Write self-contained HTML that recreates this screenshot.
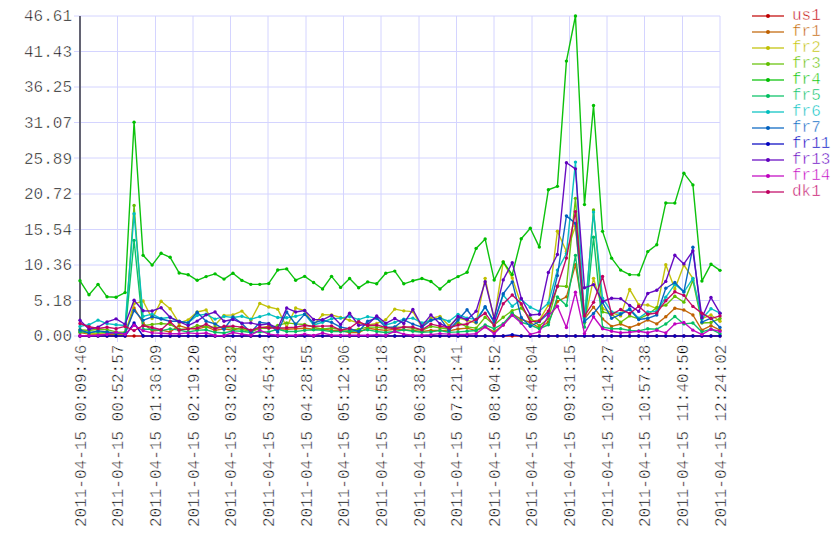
<!DOCTYPE html><html><head><meta charset="utf-8"><style>html,body{margin:0;padding:0;background:#fff;width:840px;height:560px;overflow:hidden}svg{display:block}text{font-family:"Liberation Mono", monospace;font-size:16px}</style></head><body>
<svg width="840" height="560" viewBox="0 0 840 560">
<g stroke="#d4d4ff" stroke-width="1"><line x1="74" y1="336.00" x2="720" y2="336.00"/><line x1="74" y1="300.50" x2="720" y2="300.50"/><line x1="74" y1="265.00" x2="720" y2="265.00"/><line x1="74" y1="229.50" x2="720" y2="229.50"/><line x1="74" y1="194.00" x2="720" y2="194.00"/><line x1="74" y1="158.00" x2="720" y2="158.00"/><line x1="74" y1="122.50" x2="720" y2="122.50"/><line x1="74" y1="87.00" x2="720" y2="87.00"/><line x1="74" y1="51.50" x2="720" y2="51.50"/><line x1="74" y1="16.00" x2="720" y2="16.00"/><line x1="80.00" y1="16" x2="80.00" y2="342"/><line x1="117.50" y1="16" x2="117.50" y2="342"/><line x1="155.50" y1="16" x2="155.50" y2="342"/><line x1="193.00" y1="16" x2="193.00" y2="342"/><line x1="230.50" y1="16" x2="230.50" y2="342"/><line x1="268.00" y1="16" x2="268.00" y2="342"/><line x1="306.00" y1="16" x2="306.00" y2="342"/><line x1="343.50" y1="16" x2="343.50" y2="342"/><line x1="381.00" y1="16" x2="381.00" y2="342"/><line x1="419.00" y1="16" x2="419.00" y2="342"/><line x1="456.50" y1="16" x2="456.50" y2="342"/><line x1="494.00" y1="16" x2="494.00" y2="342"/><line x1="532.00" y1="16" x2="532.00" y2="342"/><line x1="569.50" y1="16" x2="569.50" y2="342"/><line x1="607.00" y1="16" x2="607.00" y2="342"/><line x1="644.50" y1="16" x2="644.50" y2="342"/><line x1="682.50" y1="16" x2="682.50" y2="342"/><line x1="720.00" y1="16" x2="720.00" y2="342"/></g>
<line x1="80" y1="16" x2="80" y2="336" stroke="#636373" stroke-width="2"/>
<g fill="#000000" stroke="#fff" stroke-width="0.48"><text x="72" y="337.30" text-anchor="end" dominant-baseline="central">0.00</text><text x="72" y="301.74" text-anchor="end" dominant-baseline="central">5.18</text><text x="72" y="266.19" text-anchor="end" dominant-baseline="central">10.36</text><text x="72" y="230.63" text-anchor="end" dominant-baseline="central">15.54</text><text x="72" y="195.08" text-anchor="end" dominant-baseline="central">20.72</text><text x="72" y="159.52" text-anchor="end" dominant-baseline="central">25.89</text><text x="72" y="123.97" text-anchor="end" dominant-baseline="central">31.07</text><text x="72" y="88.41" text-anchor="end" dominant-baseline="central">36.25</text><text x="72" y="52.86" text-anchor="end" dominant-baseline="central">41.43</text><text x="72" y="17.30" text-anchor="end" dominant-baseline="central">46.61</text><text transform="translate(81.70,344.6) rotate(-90)" text-anchor="end" dominant-baseline="central">2011-04-15 00:09:46</text><text transform="translate(119.35,344.6) rotate(-90)" text-anchor="end" dominant-baseline="central">2011-04-15 00:52:57</text><text transform="translate(156.99,344.6) rotate(-90)" text-anchor="end" dominant-baseline="central">2011-04-15 01:36:09</text><text transform="translate(194.64,344.6) rotate(-90)" text-anchor="end" dominant-baseline="central">2011-04-15 02:19:20</text><text transform="translate(232.29,344.6) rotate(-90)" text-anchor="end" dominant-baseline="central">2011-04-15 03:02:32</text><text transform="translate(269.94,344.6) rotate(-90)" text-anchor="end" dominant-baseline="central">2011-04-15 03:45:43</text><text transform="translate(307.58,344.6) rotate(-90)" text-anchor="end" dominant-baseline="central">2011-04-15 04:28:55</text><text transform="translate(345.23,344.6) rotate(-90)" text-anchor="end" dominant-baseline="central">2011-04-15 05:12:06</text><text transform="translate(382.88,344.6) rotate(-90)" text-anchor="end" dominant-baseline="central">2011-04-15 05:55:18</text><text transform="translate(420.52,344.6) rotate(-90)" text-anchor="end" dominant-baseline="central">2011-04-15 06:38:29</text><text transform="translate(458.17,344.6) rotate(-90)" text-anchor="end" dominant-baseline="central">2011-04-15 07:21:41</text><text transform="translate(495.82,344.6) rotate(-90)" text-anchor="end" dominant-baseline="central">2011-04-15 08:04:52</text><text transform="translate(533.46,344.6) rotate(-90)" text-anchor="end" dominant-baseline="central">2011-04-15 08:48:04</text><text transform="translate(571.11,344.6) rotate(-90)" text-anchor="end" dominant-baseline="central">2011-04-15 09:31:15</text><text transform="translate(608.76,344.6) rotate(-90)" text-anchor="end" dominant-baseline="central">2011-04-15 10:14:27</text><text transform="translate(646.41,344.6) rotate(-90)" text-anchor="end" dominant-baseline="central">2011-04-15 10:57:38</text><text transform="translate(684.05,344.6) rotate(-90)" text-anchor="end" dominant-baseline="central">2011-04-15 11:40:50</text><text transform="translate(721.70,344.6) rotate(-90)" text-anchor="end" dominant-baseline="central">2011-04-15 12:24:02</text></g>
<polyline points="80.00,336.00 89.01,336.00 98.03,336.00 107.04,336.00 116.06,336.00 125.07,336.00 134.08,336.00 143.10,336.00 152.11,336.00 161.13,336.00 170.14,336.00 179.15,336.00 188.17,336.00 197.18,336.00 206.13,336.00 215.07,336.00 224.01,336.00 232.95,336.00 241.90,336.00 250.84,336.00 259.78,336.00 268.75,336.00 277.72,336.00 286.69,336.00 295.66,336.00 304.63,336.00 313.60,336.00 322.57,336.00 331.54,336.00 340.58,336.00 349.61,336.00 358.64,336.00 367.68,336.00 376.71,336.00 385.74,336.00 394.77,336.00 403.81,336.00 412.85,336.00 421.89,336.00 430.92,336.00 439.96,336.00 449.00,336.00 458.04,336.00 467.08,336.00 476.12,336.00 485.15,336.00 494.18,336.00 503.21,336.00 512.24,336.00 521.27,336.00 530.30,336.00 539.33,336.00 548.37,336.00 557.40,336.00 566.43,336.00 575.46,336.00 584.49,336.00 593.52,336.00 602.56,336.00 611.60,336.00 620.63,336.00 629.67,336.00 638.70,336.00 647.74,336.00 656.77,336.00 665.80,336.00 674.84,336.00 683.87,336.00 692.90,336.00 701.93,336.00 710.97,336.00 720.00,336.00" fill="none" stroke="#bf0000" stroke-opacity="0.95" stroke-width="1.4" stroke-linejoin="round"/>
<g fill="#bf0000"><circle cx="80.00" cy="336.00" r="1.7"/><circle cx="89.01" cy="336.00" r="1.7"/><circle cx="98.03" cy="336.00" r="1.7"/><circle cx="107.04" cy="336.00" r="1.7"/><circle cx="116.06" cy="336.00" r="1.7"/><circle cx="125.07" cy="336.00" r="1.7"/><circle cx="134.08" cy="336.00" r="1.7"/><circle cx="143.10" cy="336.00" r="1.7"/><circle cx="152.11" cy="336.00" r="1.7"/><circle cx="161.13" cy="336.00" r="1.7"/><circle cx="170.14" cy="336.00" r="1.7"/><circle cx="179.15" cy="336.00" r="1.7"/><circle cx="188.17" cy="336.00" r="1.7"/><circle cx="197.18" cy="336.00" r="1.7"/><circle cx="206.13" cy="336.00" r="1.7"/><circle cx="215.07" cy="336.00" r="1.7"/><circle cx="224.01" cy="336.00" r="1.7"/><circle cx="232.95" cy="336.00" r="1.7"/><circle cx="241.90" cy="336.00" r="1.7"/><circle cx="250.84" cy="336.00" r="1.7"/><circle cx="259.78" cy="336.00" r="1.7"/><circle cx="268.75" cy="336.00" r="1.7"/><circle cx="277.72" cy="336.00" r="1.7"/><circle cx="286.69" cy="336.00" r="1.7"/><circle cx="295.66" cy="336.00" r="1.7"/><circle cx="304.63" cy="336.00" r="1.7"/><circle cx="313.60" cy="336.00" r="1.7"/><circle cx="322.57" cy="336.00" r="1.7"/><circle cx="331.54" cy="336.00" r="1.7"/><circle cx="340.58" cy="336.00" r="1.7"/><circle cx="349.61" cy="336.00" r="1.7"/><circle cx="358.64" cy="336.00" r="1.7"/><circle cx="367.68" cy="336.00" r="1.7"/><circle cx="376.71" cy="336.00" r="1.7"/><circle cx="385.74" cy="336.00" r="1.7"/><circle cx="394.77" cy="336.00" r="1.7"/><circle cx="403.81" cy="336.00" r="1.7"/><circle cx="412.85" cy="336.00" r="1.7"/><circle cx="421.89" cy="336.00" r="1.7"/><circle cx="430.92" cy="336.00" r="1.7"/><circle cx="439.96" cy="336.00" r="1.7"/><circle cx="449.00" cy="336.00" r="1.7"/><circle cx="458.04" cy="336.00" r="1.7"/><circle cx="467.08" cy="336.00" r="1.7"/><circle cx="476.12" cy="336.00" r="1.7"/><circle cx="485.15" cy="336.00" r="1.7"/><circle cx="494.18" cy="336.00" r="1.7"/><circle cx="503.21" cy="336.00" r="1.7"/><circle cx="512.24" cy="336.00" r="1.7"/><circle cx="521.27" cy="336.00" r="1.7"/><circle cx="530.30" cy="336.00" r="1.7"/><circle cx="539.33" cy="336.00" r="1.7"/><circle cx="548.37" cy="336.00" r="1.7"/><circle cx="557.40" cy="336.00" r="1.7"/><circle cx="566.43" cy="336.00" r="1.7"/><circle cx="575.46" cy="336.00" r="1.7"/><circle cx="584.49" cy="336.00" r="1.7"/><circle cx="593.52" cy="336.00" r="1.7"/><circle cx="602.56" cy="336.00" r="1.7"/><circle cx="611.60" cy="336.00" r="1.7"/><circle cx="620.63" cy="336.00" r="1.7"/><circle cx="629.67" cy="336.00" r="1.7"/><circle cx="638.70" cy="336.00" r="1.7"/><circle cx="647.74" cy="336.00" r="1.7"/><circle cx="656.77" cy="336.00" r="1.7"/><circle cx="665.80" cy="336.00" r="1.7"/><circle cx="674.84" cy="336.00" r="1.7"/><circle cx="683.87" cy="336.00" r="1.7"/><circle cx="692.90" cy="336.00" r="1.7"/><circle cx="701.93" cy="336.00" r="1.7"/><circle cx="710.97" cy="336.00" r="1.7"/><circle cx="720.00" cy="336.00" r="1.7"/></g>
<polyline points="80.00,332.57 89.01,333.94 98.03,334.28 107.04,333.94 116.06,334.28 125.07,334.28 134.08,307.92 143.10,323.02 152.11,331.06 161.13,330.16 170.14,331.95 179.15,325.70 188.17,328.38 197.18,329.20 206.13,326.59 215.07,330.37 224.01,328.79 232.95,330.37 241.90,327.14 250.84,331.47 259.78,328.24 268.75,326.11 277.72,328.79 286.69,329.27 295.66,328.79 304.63,328.24 313.60,329.27 322.57,328.79 331.54,330.37 340.58,330.37 349.61,332.50 358.64,332.50 367.68,328.24 376.71,329.48 385.74,330.37 394.77,329.27 403.81,329.82 412.85,330.37 421.89,331.47 430.92,330.37 439.96,330.37 449.00,330.85 458.04,329.00 467.08,328.10 476.12,330.64 485.15,326.87 494.18,331.88 503.21,325.02 512.24,313.76 521.27,319.39 530.30,322.48 539.33,327.76 548.37,322.27 557.40,301.47 566.43,296.87 575.46,264.60 584.49,318.84 593.52,307.10 602.56,318.84 611.60,326.39 620.63,323.99 629.67,327.62 638.70,324.26 647.74,319.93 656.77,323.92 665.80,316.78 674.84,308.19 683.87,309.98 692.90,314.99 701.93,330.16 710.97,325.70 720.00,330.16" fill="none" stroke="#bf6000" stroke-opacity="0.95" stroke-width="1.4" stroke-linejoin="round"/>
<g fill="#bf6000"><circle cx="80.00" cy="332.57" r="1.7"/><circle cx="89.01" cy="333.94" r="1.7"/><circle cx="98.03" cy="334.28" r="1.7"/><circle cx="107.04" cy="333.94" r="1.7"/><circle cx="116.06" cy="334.28" r="1.7"/><circle cx="125.07" cy="334.28" r="1.7"/><circle cx="134.08" cy="307.92" r="1.7"/><circle cx="143.10" cy="323.02" r="1.7"/><circle cx="152.11" cy="331.06" r="1.7"/><circle cx="161.13" cy="330.16" r="1.7"/><circle cx="170.14" cy="331.95" r="1.7"/><circle cx="179.15" cy="325.70" r="1.7"/><circle cx="188.17" cy="328.38" r="1.7"/><circle cx="197.18" cy="329.20" r="1.7"/><circle cx="206.13" cy="326.59" r="1.7"/><circle cx="215.07" cy="330.37" r="1.7"/><circle cx="224.01" cy="328.79" r="1.7"/><circle cx="232.95" cy="330.37" r="1.7"/><circle cx="241.90" cy="327.14" r="1.7"/><circle cx="250.84" cy="331.47" r="1.7"/><circle cx="259.78" cy="328.24" r="1.7"/><circle cx="268.75" cy="326.11" r="1.7"/><circle cx="277.72" cy="328.79" r="1.7"/><circle cx="286.69" cy="329.27" r="1.7"/><circle cx="295.66" cy="328.79" r="1.7"/><circle cx="304.63" cy="328.24" r="1.7"/><circle cx="313.60" cy="329.27" r="1.7"/><circle cx="322.57" cy="328.79" r="1.7"/><circle cx="331.54" cy="330.37" r="1.7"/><circle cx="340.58" cy="330.37" r="1.7"/><circle cx="349.61" cy="332.50" r="1.7"/><circle cx="358.64" cy="332.50" r="1.7"/><circle cx="367.68" cy="328.24" r="1.7"/><circle cx="376.71" cy="329.48" r="1.7"/><circle cx="385.74" cy="330.37" r="1.7"/><circle cx="394.77" cy="329.27" r="1.7"/><circle cx="403.81" cy="329.82" r="1.7"/><circle cx="412.85" cy="330.37" r="1.7"/><circle cx="421.89" cy="331.47" r="1.7"/><circle cx="430.92" cy="330.37" r="1.7"/><circle cx="439.96" cy="330.37" r="1.7"/><circle cx="449.00" cy="330.85" r="1.7"/><circle cx="458.04" cy="329.00" r="1.7"/><circle cx="467.08" cy="328.10" r="1.7"/><circle cx="476.12" cy="330.64" r="1.7"/><circle cx="485.15" cy="326.87" r="1.7"/><circle cx="494.18" cy="331.88" r="1.7"/><circle cx="503.21" cy="325.02" r="1.7"/><circle cx="512.24" cy="313.76" r="1.7"/><circle cx="521.27" cy="319.39" r="1.7"/><circle cx="530.30" cy="322.48" r="1.7"/><circle cx="539.33" cy="327.76" r="1.7"/><circle cx="548.37" cy="322.27" r="1.7"/><circle cx="557.40" cy="301.47" r="1.7"/><circle cx="566.43" cy="296.87" r="1.7"/><circle cx="575.46" cy="264.60" r="1.7"/><circle cx="584.49" cy="318.84" r="1.7"/><circle cx="593.52" cy="307.10" r="1.7"/><circle cx="602.56" cy="318.84" r="1.7"/><circle cx="611.60" cy="326.39" r="1.7"/><circle cx="620.63" cy="323.99" r="1.7"/><circle cx="629.67" cy="327.62" r="1.7"/><circle cx="638.70" cy="324.26" r="1.7"/><circle cx="647.74" cy="319.93" r="1.7"/><circle cx="656.77" cy="323.92" r="1.7"/><circle cx="665.80" cy="316.78" r="1.7"/><circle cx="674.84" cy="308.19" r="1.7"/><circle cx="683.87" cy="309.98" r="1.7"/><circle cx="692.90" cy="314.99" r="1.7"/><circle cx="701.93" cy="330.16" r="1.7"/><circle cx="710.97" cy="325.70" r="1.7"/><circle cx="720.00" cy="330.16" r="1.7"/></g>
<polyline points="80.00,331.19 89.01,333.60 98.03,333.60 107.04,332.16 116.06,333.60 125.07,333.94 134.08,303.80 143.10,300.99 152.11,318.56 161.13,301.19 170.14,308.74 179.15,323.02 188.17,319.87 197.18,311.97 206.13,309.98 215.07,325.02 224.01,315.33 232.95,314.85 241.90,311.08 250.84,320.21 259.78,303.39 268.75,307.03 277.72,309.16 286.69,327.14 295.66,308.06 304.63,310.53 313.60,325.02 322.57,314.72 331.54,314.85 340.58,317.46 349.61,320.21 358.64,322.89 367.68,325.02 376.71,323.44 385.74,319.66 394.77,309.16 403.81,310.87 412.85,311.63 421.89,327.14 430.92,318.15 439.96,316.36 449.00,325.70 458.04,318.15 467.08,320.21 476.12,322.96 485.15,278.33 494.18,320.00 503.21,261.85 512.24,277.99 521.27,305.11 530.30,321.24 539.33,320.21 548.37,305.11 557.40,231.23 566.43,251.55 575.46,226.15 584.49,322.27 593.52,278.33 602.56,308.54 611.60,312.66 620.63,315.88 629.67,289.38 638.70,304.62 647.74,304.97 656.77,308.68 665.80,264.74 674.84,289.11 683.87,265.01 692.90,278.40 701.93,318.56 710.97,314.99 720.00,321.24" fill="none" stroke="#bfbf00" stroke-opacity="0.95" stroke-width="1.4" stroke-linejoin="round"/>
<g fill="#bfbf00"><circle cx="80.00" cy="331.19" r="1.7"/><circle cx="89.01" cy="333.60" r="1.7"/><circle cx="98.03" cy="333.60" r="1.7"/><circle cx="107.04" cy="332.16" r="1.7"/><circle cx="116.06" cy="333.60" r="1.7"/><circle cx="125.07" cy="333.94" r="1.7"/><circle cx="134.08" cy="303.80" r="1.7"/><circle cx="143.10" cy="300.99" r="1.7"/><circle cx="152.11" cy="318.56" r="1.7"/><circle cx="161.13" cy="301.19" r="1.7"/><circle cx="170.14" cy="308.74" r="1.7"/><circle cx="179.15" cy="323.02" r="1.7"/><circle cx="188.17" cy="319.87" r="1.7"/><circle cx="197.18" cy="311.97" r="1.7"/><circle cx="206.13" cy="309.98" r="1.7"/><circle cx="215.07" cy="325.02" r="1.7"/><circle cx="224.01" cy="315.33" r="1.7"/><circle cx="232.95" cy="314.85" r="1.7"/><circle cx="241.90" cy="311.08" r="1.7"/><circle cx="250.84" cy="320.21" r="1.7"/><circle cx="259.78" cy="303.39" r="1.7"/><circle cx="268.75" cy="307.03" r="1.7"/><circle cx="277.72" cy="309.16" r="1.7"/><circle cx="286.69" cy="327.14" r="1.7"/><circle cx="295.66" cy="308.06" r="1.7"/><circle cx="304.63" cy="310.53" r="1.7"/><circle cx="313.60" cy="325.02" r="1.7"/><circle cx="322.57" cy="314.72" r="1.7"/><circle cx="331.54" cy="314.85" r="1.7"/><circle cx="340.58" cy="317.46" r="1.7"/><circle cx="349.61" cy="320.21" r="1.7"/><circle cx="358.64" cy="322.89" r="1.7"/><circle cx="367.68" cy="325.02" r="1.7"/><circle cx="376.71" cy="323.44" r="1.7"/><circle cx="385.74" cy="319.66" r="1.7"/><circle cx="394.77" cy="309.16" r="1.7"/><circle cx="403.81" cy="310.87" r="1.7"/><circle cx="412.85" cy="311.63" r="1.7"/><circle cx="421.89" cy="327.14" r="1.7"/><circle cx="430.92" cy="318.15" r="1.7"/><circle cx="439.96" cy="316.36" r="1.7"/><circle cx="449.00" cy="325.70" r="1.7"/><circle cx="458.04" cy="318.15" r="1.7"/><circle cx="467.08" cy="320.21" r="1.7"/><circle cx="476.12" cy="322.96" r="1.7"/><circle cx="485.15" cy="278.33" r="1.7"/><circle cx="494.18" cy="320.00" r="1.7"/><circle cx="503.21" cy="261.85" r="1.7"/><circle cx="512.24" cy="277.99" r="1.7"/><circle cx="521.27" cy="305.11" r="1.7"/><circle cx="530.30" cy="321.24" r="1.7"/><circle cx="539.33" cy="320.21" r="1.7"/><circle cx="548.37" cy="305.11" r="1.7"/><circle cx="557.40" cy="231.23" r="1.7"/><circle cx="566.43" cy="251.55" r="1.7"/><circle cx="575.46" cy="226.15" r="1.7"/><circle cx="584.49" cy="322.27" r="1.7"/><circle cx="593.52" cy="278.33" r="1.7"/><circle cx="602.56" cy="308.54" r="1.7"/><circle cx="611.60" cy="312.66" r="1.7"/><circle cx="620.63" cy="315.88" r="1.7"/><circle cx="629.67" cy="289.38" r="1.7"/><circle cx="638.70" cy="304.62" r="1.7"/><circle cx="647.74" cy="304.97" r="1.7"/><circle cx="656.77" cy="308.68" r="1.7"/><circle cx="665.80" cy="264.74" r="1.7"/><circle cx="674.84" cy="289.11" r="1.7"/><circle cx="683.87" cy="265.01" r="1.7"/><circle cx="692.90" cy="278.40" r="1.7"/><circle cx="701.93" cy="318.56" r="1.7"/><circle cx="710.97" cy="314.99" r="1.7"/><circle cx="720.00" cy="321.24" r="1.7"/></g>
<polyline points="80.00,329.82 89.01,330.51 98.03,329.27 107.04,329.62 116.06,331.88 125.07,332.22 134.08,205.42 143.10,325.70 152.11,324.40 161.13,323.50 170.14,324.40 179.15,329.27 188.17,329.27 197.18,325.56 206.13,326.73 215.07,327.42 224.01,327.07 232.95,328.24 241.90,329.27 250.84,331.47 259.78,328.24 268.75,328.24 277.72,325.56 286.69,322.89 295.66,323.92 304.63,324.47 313.60,327.14 322.57,329.27 331.54,328.04 340.58,329.48 349.61,330.37 358.64,329.27 367.68,327.14 376.71,327.14 385.74,328.24 394.77,327.14 403.81,327.14 412.85,328.24 421.89,330.37 430.92,326.39 439.96,327.76 449.00,329.27 458.04,322.48 467.08,326.87 476.12,328.10 485.15,317.26 494.18,325.02 503.21,317.26 512.24,310.60 521.27,308.13 530.30,318.15 539.33,325.70 548.37,318.84 557.40,285.88 566.43,286.57 575.46,198.35 584.49,322.27 593.52,210.02 602.56,311.90 611.60,314.03 620.63,322.27 629.67,315.88 638.70,318.84 647.74,314.72 656.77,307.51 665.80,305.17 674.84,296.25 683.87,302.15 692.90,280.39 701.93,323.02 710.97,322.48 720.00,318.56" fill="none" stroke="#60bf00" stroke-opacity="0.95" stroke-width="1.4" stroke-linejoin="round"/>
<g fill="#60bf00"><circle cx="80.00" cy="329.82" r="1.7"/><circle cx="89.01" cy="330.51" r="1.7"/><circle cx="98.03" cy="329.27" r="1.7"/><circle cx="107.04" cy="329.62" r="1.7"/><circle cx="116.06" cy="331.88" r="1.7"/><circle cx="125.07" cy="332.22" r="1.7"/><circle cx="134.08" cy="205.42" r="1.7"/><circle cx="143.10" cy="325.70" r="1.7"/><circle cx="152.11" cy="324.40" r="1.7"/><circle cx="161.13" cy="323.50" r="1.7"/><circle cx="170.14" cy="324.40" r="1.7"/><circle cx="179.15" cy="329.27" r="1.7"/><circle cx="188.17" cy="329.27" r="1.7"/><circle cx="197.18" cy="325.56" r="1.7"/><circle cx="206.13" cy="326.73" r="1.7"/><circle cx="215.07" cy="327.42" r="1.7"/><circle cx="224.01" cy="327.07" r="1.7"/><circle cx="232.95" cy="328.24" r="1.7"/><circle cx="241.90" cy="329.27" r="1.7"/><circle cx="250.84" cy="331.47" r="1.7"/><circle cx="259.78" cy="328.24" r="1.7"/><circle cx="268.75" cy="328.24" r="1.7"/><circle cx="277.72" cy="325.56" r="1.7"/><circle cx="286.69" cy="322.89" r="1.7"/><circle cx="295.66" cy="323.92" r="1.7"/><circle cx="304.63" cy="324.47" r="1.7"/><circle cx="313.60" cy="327.14" r="1.7"/><circle cx="322.57" cy="329.27" r="1.7"/><circle cx="331.54" cy="328.04" r="1.7"/><circle cx="340.58" cy="329.48" r="1.7"/><circle cx="349.61" cy="330.37" r="1.7"/><circle cx="358.64" cy="329.27" r="1.7"/><circle cx="367.68" cy="327.14" r="1.7"/><circle cx="376.71" cy="327.14" r="1.7"/><circle cx="385.74" cy="328.24" r="1.7"/><circle cx="394.77" cy="327.14" r="1.7"/><circle cx="403.81" cy="327.14" r="1.7"/><circle cx="412.85" cy="328.24" r="1.7"/><circle cx="421.89" cy="330.37" r="1.7"/><circle cx="430.92" cy="326.39" r="1.7"/><circle cx="439.96" cy="327.76" r="1.7"/><circle cx="449.00" cy="329.27" r="1.7"/><circle cx="458.04" cy="322.48" r="1.7"/><circle cx="467.08" cy="326.87" r="1.7"/><circle cx="476.12" cy="328.10" r="1.7"/><circle cx="485.15" cy="317.26" r="1.7"/><circle cx="494.18" cy="325.02" r="1.7"/><circle cx="503.21" cy="317.26" r="1.7"/><circle cx="512.24" cy="310.60" r="1.7"/><circle cx="521.27" cy="308.13" r="1.7"/><circle cx="530.30" cy="318.15" r="1.7"/><circle cx="539.33" cy="325.70" r="1.7"/><circle cx="548.37" cy="318.84" r="1.7"/><circle cx="557.40" cy="285.88" r="1.7"/><circle cx="566.43" cy="286.57" r="1.7"/><circle cx="575.46" cy="198.35" r="1.7"/><circle cx="584.49" cy="322.27" r="1.7"/><circle cx="593.52" cy="210.02" r="1.7"/><circle cx="602.56" cy="311.90" r="1.7"/><circle cx="611.60" cy="314.03" r="1.7"/><circle cx="620.63" cy="322.27" r="1.7"/><circle cx="629.67" cy="315.88" r="1.7"/><circle cx="638.70" cy="318.84" r="1.7"/><circle cx="647.74" cy="314.72" r="1.7"/><circle cx="656.77" cy="307.51" r="1.7"/><circle cx="665.80" cy="305.17" r="1.7"/><circle cx="674.84" cy="296.25" r="1.7"/><circle cx="683.87" cy="302.15" r="1.7"/><circle cx="692.90" cy="280.39" r="1.7"/><circle cx="701.93" cy="323.02" r="1.7"/><circle cx="710.97" cy="322.48" r="1.7"/><circle cx="720.00" cy="318.56" r="1.7"/></g>
<polyline points="80.00,280.80 89.01,294.81 98.03,284.37 107.04,296.80 116.06,297.21 125.07,292.61 134.08,122.14 143.10,255.33 152.11,265.08 161.13,253.27 170.14,257.32 179.15,272.97 188.17,274.69 197.18,280.32 206.13,276.61 215.07,273.87 224.01,279.09 232.95,273.18 241.90,280.39 250.84,284.37 259.78,284.37 268.75,283.48 277.72,270.02 286.69,268.92 295.66,280.18 304.63,276.34 313.60,282.52 322.57,288.97 331.54,276.34 340.58,287.39 349.61,278.47 358.64,287.80 367.68,281.90 376.71,283.69 385.74,273.18 394.77,271.12 403.81,283.82 412.85,280.80 421.89,278.47 430.92,281.49 439.96,288.97 449.00,281.21 458.04,276.61 467.08,272.29 476.12,248.40 485.15,238.92 494.18,280.11 503.21,261.99 512.24,274.62 521.27,238.72 530.30,228.21 539.33,247.09 548.37,189.77 557.40,186.33 566.43,61.11 575.46,16.00 584.49,204.59 593.52,105.53 602.56,231.37 611.60,258.15 620.63,270.09 629.67,274.62 638.70,274.90 647.74,251.62 656.77,244.69 665.80,202.95 674.84,203.08 683.87,173.15 692.90,184.89 701.93,281.08 710.97,264.12 720.00,270.37" fill="none" stroke="#00bf00" stroke-opacity="0.95" stroke-width="1.4" stroke-linejoin="round"/>
<g fill="#00bf00"><circle cx="80.00" cy="280.80" r="1.7"/><circle cx="89.01" cy="294.81" r="1.7"/><circle cx="98.03" cy="284.37" r="1.7"/><circle cx="107.04" cy="296.80" r="1.7"/><circle cx="116.06" cy="297.21" r="1.7"/><circle cx="125.07" cy="292.61" r="1.7"/><circle cx="134.08" cy="122.14" r="1.7"/><circle cx="143.10" cy="255.33" r="1.7"/><circle cx="152.11" cy="265.08" r="1.7"/><circle cx="161.13" cy="253.27" r="1.7"/><circle cx="170.14" cy="257.32" r="1.7"/><circle cx="179.15" cy="272.97" r="1.7"/><circle cx="188.17" cy="274.69" r="1.7"/><circle cx="197.18" cy="280.32" r="1.7"/><circle cx="206.13" cy="276.61" r="1.7"/><circle cx="215.07" cy="273.87" r="1.7"/><circle cx="224.01" cy="279.09" r="1.7"/><circle cx="232.95" cy="273.18" r="1.7"/><circle cx="241.90" cy="280.39" r="1.7"/><circle cx="250.84" cy="284.37" r="1.7"/><circle cx="259.78" cy="284.37" r="1.7"/><circle cx="268.75" cy="283.48" r="1.7"/><circle cx="277.72" cy="270.02" r="1.7"/><circle cx="286.69" cy="268.92" r="1.7"/><circle cx="295.66" cy="280.18" r="1.7"/><circle cx="304.63" cy="276.34" r="1.7"/><circle cx="313.60" cy="282.52" r="1.7"/><circle cx="322.57" cy="288.97" r="1.7"/><circle cx="331.54" cy="276.34" r="1.7"/><circle cx="340.58" cy="287.39" r="1.7"/><circle cx="349.61" cy="278.47" r="1.7"/><circle cx="358.64" cy="287.80" r="1.7"/><circle cx="367.68" cy="281.90" r="1.7"/><circle cx="376.71" cy="283.69" r="1.7"/><circle cx="385.74" cy="273.18" r="1.7"/><circle cx="394.77" cy="271.12" r="1.7"/><circle cx="403.81" cy="283.82" r="1.7"/><circle cx="412.85" cy="280.80" r="1.7"/><circle cx="421.89" cy="278.47" r="1.7"/><circle cx="430.92" cy="281.49" r="1.7"/><circle cx="439.96" cy="288.97" r="1.7"/><circle cx="449.00" cy="281.21" r="1.7"/><circle cx="458.04" cy="276.61" r="1.7"/><circle cx="467.08" cy="272.29" r="1.7"/><circle cx="476.12" cy="248.40" r="1.7"/><circle cx="485.15" cy="238.92" r="1.7"/><circle cx="494.18" cy="280.11" r="1.7"/><circle cx="503.21" cy="261.99" r="1.7"/><circle cx="512.24" cy="274.62" r="1.7"/><circle cx="521.27" cy="238.72" r="1.7"/><circle cx="530.30" cy="228.21" r="1.7"/><circle cx="539.33" cy="247.09" r="1.7"/><circle cx="548.37" cy="189.77" r="1.7"/><circle cx="557.40" cy="186.33" r="1.7"/><circle cx="566.43" cy="61.11" r="1.7"/><circle cx="575.46" cy="16.00" r="1.7"/><circle cx="584.49" cy="204.59" r="1.7"/><circle cx="593.52" cy="105.53" r="1.7"/><circle cx="602.56" cy="231.37" r="1.7"/><circle cx="611.60" cy="258.15" r="1.7"/><circle cx="620.63" cy="270.09" r="1.7"/><circle cx="629.67" cy="274.62" r="1.7"/><circle cx="638.70" cy="274.90" r="1.7"/><circle cx="647.74" cy="251.62" r="1.7"/><circle cx="656.77" cy="244.69" r="1.7"/><circle cx="665.80" cy="202.95" r="1.7"/><circle cx="674.84" cy="203.08" r="1.7"/><circle cx="683.87" cy="173.15" r="1.7"/><circle cx="692.90" cy="184.89" r="1.7"/><circle cx="701.93" cy="281.08" r="1.7"/><circle cx="710.97" cy="264.12" r="1.7"/><circle cx="720.00" cy="270.37" r="1.7"/></g>
<polyline points="80.00,331.88 89.01,332.57 98.03,331.88 107.04,332.57 116.06,333.60 125.07,333.25 134.08,240.36 143.10,329.27 152.11,329.27 161.13,330.64 170.14,328.86 179.15,330.16 188.17,331.95 197.18,330.37 206.13,329.82 215.07,332.29 224.01,333.05 232.95,330.92 241.90,331.19 250.84,332.50 259.78,331.88 268.75,331.95 277.72,329.27 286.69,331.47 295.66,331.47 304.63,330.37 313.60,329.82 322.57,330.37 331.54,331.47 340.58,331.47 349.61,331.47 358.64,330.92 367.68,329.82 376.71,331.47 385.74,332.50 394.77,331.47 403.81,329.82 412.85,331.19 421.89,332.29 430.92,331.88 439.96,330.64 449.00,332.29 458.04,331.88 467.08,331.19 476.12,330.51 485.15,325.02 494.18,328.72 503.21,323.64 512.24,313.14 521.27,322.27 530.30,325.02 539.33,328.79 548.37,324.74 557.40,296.87 566.43,305.45 575.46,255.33 584.49,327.14 593.52,237.27 602.56,327.14 611.60,328.79 620.63,328.79 629.67,330.37 638.70,330.85 647.74,328.79 656.77,329.13 665.80,323.99 674.84,316.43 683.87,323.92 692.90,323.02 701.93,331.95 710.97,329.13 720.00,333.73" fill="none" stroke="#00bf60" stroke-opacity="0.95" stroke-width="1.4" stroke-linejoin="round"/>
<g fill="#00bf60"><circle cx="80.00" cy="331.88" r="1.7"/><circle cx="89.01" cy="332.57" r="1.7"/><circle cx="98.03" cy="331.88" r="1.7"/><circle cx="107.04" cy="332.57" r="1.7"/><circle cx="116.06" cy="333.60" r="1.7"/><circle cx="125.07" cy="333.25" r="1.7"/><circle cx="134.08" cy="240.36" r="1.7"/><circle cx="143.10" cy="329.27" r="1.7"/><circle cx="152.11" cy="329.27" r="1.7"/><circle cx="161.13" cy="330.64" r="1.7"/><circle cx="170.14" cy="328.86" r="1.7"/><circle cx="179.15" cy="330.16" r="1.7"/><circle cx="188.17" cy="331.95" r="1.7"/><circle cx="197.18" cy="330.37" r="1.7"/><circle cx="206.13" cy="329.82" r="1.7"/><circle cx="215.07" cy="332.29" r="1.7"/><circle cx="224.01" cy="333.05" r="1.7"/><circle cx="232.95" cy="330.92" r="1.7"/><circle cx="241.90" cy="331.19" r="1.7"/><circle cx="250.84" cy="332.50" r="1.7"/><circle cx="259.78" cy="331.88" r="1.7"/><circle cx="268.75" cy="331.95" r="1.7"/><circle cx="277.72" cy="329.27" r="1.7"/><circle cx="286.69" cy="331.47" r="1.7"/><circle cx="295.66" cy="331.47" r="1.7"/><circle cx="304.63" cy="330.37" r="1.7"/><circle cx="313.60" cy="329.82" r="1.7"/><circle cx="322.57" cy="330.37" r="1.7"/><circle cx="331.54" cy="331.47" r="1.7"/><circle cx="340.58" cy="331.47" r="1.7"/><circle cx="349.61" cy="331.47" r="1.7"/><circle cx="358.64" cy="330.92" r="1.7"/><circle cx="367.68" cy="329.82" r="1.7"/><circle cx="376.71" cy="331.47" r="1.7"/><circle cx="385.74" cy="332.50" r="1.7"/><circle cx="394.77" cy="331.47" r="1.7"/><circle cx="403.81" cy="329.82" r="1.7"/><circle cx="412.85" cy="331.19" r="1.7"/><circle cx="421.89" cy="332.29" r="1.7"/><circle cx="430.92" cy="331.88" r="1.7"/><circle cx="439.96" cy="330.64" r="1.7"/><circle cx="449.00" cy="332.29" r="1.7"/><circle cx="458.04" cy="331.88" r="1.7"/><circle cx="467.08" cy="331.19" r="1.7"/><circle cx="476.12" cy="330.51" r="1.7"/><circle cx="485.15" cy="325.02" r="1.7"/><circle cx="494.18" cy="328.72" r="1.7"/><circle cx="503.21" cy="323.64" r="1.7"/><circle cx="512.24" cy="313.14" r="1.7"/><circle cx="521.27" cy="322.27" r="1.7"/><circle cx="530.30" cy="325.02" r="1.7"/><circle cx="539.33" cy="328.79" r="1.7"/><circle cx="548.37" cy="324.74" r="1.7"/><circle cx="557.40" cy="296.87" r="1.7"/><circle cx="566.43" cy="305.45" r="1.7"/><circle cx="575.46" cy="255.33" r="1.7"/><circle cx="584.49" cy="327.14" r="1.7"/><circle cx="593.52" cy="237.27" r="1.7"/><circle cx="602.56" cy="327.14" r="1.7"/><circle cx="611.60" cy="328.79" r="1.7"/><circle cx="620.63" cy="328.79" r="1.7"/><circle cx="629.67" cy="330.37" r="1.7"/><circle cx="638.70" cy="330.85" r="1.7"/><circle cx="647.74" cy="328.79" r="1.7"/><circle cx="656.77" cy="329.13" r="1.7"/><circle cx="665.80" cy="323.99" r="1.7"/><circle cx="674.84" cy="316.43" r="1.7"/><circle cx="683.87" cy="323.92" r="1.7"/><circle cx="692.90" cy="323.02" r="1.7"/><circle cx="701.93" cy="331.95" r="1.7"/><circle cx="710.97" cy="329.13" r="1.7"/><circle cx="720.00" cy="333.73" r="1.7"/></g>
<polyline points="80.00,326.39 89.01,324.81 98.03,320.14 107.04,323.64 116.06,324.81 125.07,325.43 134.08,213.79 143.10,316.36 152.11,314.10 161.13,318.56 170.14,317.26 179.15,321.72 188.17,322.61 197.18,315.40 206.13,314.31 215.07,319.11 224.01,316.43 232.95,317.53 241.90,316.23 250.84,319.11 259.78,316.64 268.75,314.10 277.72,317.53 286.69,317.74 295.66,316.23 304.63,314.10 313.60,325.02 322.57,322.27 331.54,318.77 340.58,318.15 349.61,316.43 358.64,319.66 367.68,316.64 376.71,318.15 385.74,325.02 394.77,322.34 403.81,319.11 412.85,318.15 421.89,322.89 430.92,320.21 439.96,318.15 449.00,321.24 458.04,314.37 467.08,318.15 476.12,319.39 485.15,307.16 494.18,322.48 503.21,295.01 512.24,306.27 521.27,299.41 530.30,307.23 539.33,311.28 548.37,303.05 557.40,270.09 566.43,253.61 575.46,162.10 584.49,318.84 593.52,212.08 602.56,298.24 611.60,311.97 620.63,313.34 629.67,308.68 638.70,318.15 647.74,311.90 656.77,311.28 665.80,297.14 674.84,284.30 683.87,292.06 692.90,278.40 701.93,318.84 710.97,308.74 720.00,313.21" fill="none" stroke="#00bfbf" stroke-opacity="0.95" stroke-width="1.4" stroke-linejoin="round"/>
<g fill="#00bfbf"><circle cx="80.00" cy="326.39" r="1.7"/><circle cx="89.01" cy="324.81" r="1.7"/><circle cx="98.03" cy="320.14" r="1.7"/><circle cx="107.04" cy="323.64" r="1.7"/><circle cx="116.06" cy="324.81" r="1.7"/><circle cx="125.07" cy="325.43" r="1.7"/><circle cx="134.08" cy="213.79" r="1.7"/><circle cx="143.10" cy="316.36" r="1.7"/><circle cx="152.11" cy="314.10" r="1.7"/><circle cx="161.13" cy="318.56" r="1.7"/><circle cx="170.14" cy="317.26" r="1.7"/><circle cx="179.15" cy="321.72" r="1.7"/><circle cx="188.17" cy="322.61" r="1.7"/><circle cx="197.18" cy="315.40" r="1.7"/><circle cx="206.13" cy="314.31" r="1.7"/><circle cx="215.07" cy="319.11" r="1.7"/><circle cx="224.01" cy="316.43" r="1.7"/><circle cx="232.95" cy="317.53" r="1.7"/><circle cx="241.90" cy="316.23" r="1.7"/><circle cx="250.84" cy="319.11" r="1.7"/><circle cx="259.78" cy="316.64" r="1.7"/><circle cx="268.75" cy="314.10" r="1.7"/><circle cx="277.72" cy="317.53" r="1.7"/><circle cx="286.69" cy="317.74" r="1.7"/><circle cx="295.66" cy="316.23" r="1.7"/><circle cx="304.63" cy="314.10" r="1.7"/><circle cx="313.60" cy="325.02" r="1.7"/><circle cx="322.57" cy="322.27" r="1.7"/><circle cx="331.54" cy="318.77" r="1.7"/><circle cx="340.58" cy="318.15" r="1.7"/><circle cx="349.61" cy="316.43" r="1.7"/><circle cx="358.64" cy="319.66" r="1.7"/><circle cx="367.68" cy="316.64" r="1.7"/><circle cx="376.71" cy="318.15" r="1.7"/><circle cx="385.74" cy="325.02" r="1.7"/><circle cx="394.77" cy="322.34" r="1.7"/><circle cx="403.81" cy="319.11" r="1.7"/><circle cx="412.85" cy="318.15" r="1.7"/><circle cx="421.89" cy="322.89" r="1.7"/><circle cx="430.92" cy="320.21" r="1.7"/><circle cx="439.96" cy="318.15" r="1.7"/><circle cx="449.00" cy="321.24" r="1.7"/><circle cx="458.04" cy="314.37" r="1.7"/><circle cx="467.08" cy="318.15" r="1.7"/><circle cx="476.12" cy="319.39" r="1.7"/><circle cx="485.15" cy="307.16" r="1.7"/><circle cx="494.18" cy="322.48" r="1.7"/><circle cx="503.21" cy="295.01" r="1.7"/><circle cx="512.24" cy="306.27" r="1.7"/><circle cx="521.27" cy="299.41" r="1.7"/><circle cx="530.30" cy="307.23" r="1.7"/><circle cx="539.33" cy="311.28" r="1.7"/><circle cx="548.37" cy="303.05" r="1.7"/><circle cx="557.40" cy="270.09" r="1.7"/><circle cx="566.43" cy="253.61" r="1.7"/><circle cx="575.46" cy="162.10" r="1.7"/><circle cx="584.49" cy="318.84" r="1.7"/><circle cx="593.52" cy="212.08" r="1.7"/><circle cx="602.56" cy="298.24" r="1.7"/><circle cx="611.60" cy="311.97" r="1.7"/><circle cx="620.63" cy="313.34" r="1.7"/><circle cx="629.67" cy="308.68" r="1.7"/><circle cx="638.70" cy="318.15" r="1.7"/><circle cx="647.74" cy="311.90" r="1.7"/><circle cx="656.77" cy="311.28" r="1.7"/><circle cx="665.80" cy="297.14" r="1.7"/><circle cx="674.84" cy="284.30" r="1.7"/><circle cx="683.87" cy="292.06" r="1.7"/><circle cx="692.90" cy="278.40" r="1.7"/><circle cx="701.93" cy="318.84" r="1.7"/><circle cx="710.97" cy="308.74" r="1.7"/><circle cx="720.00" cy="313.21" r="1.7"/></g>
<polyline points="80.00,329.96 89.01,332.84 98.03,330.85 107.04,331.88 116.06,332.91 125.07,333.60 134.08,310.53 143.10,320.35 152.11,316.78 161.13,319.04 170.14,321.24 179.15,321.24 188.17,323.02 197.18,312.31 206.13,321.24 215.07,323.92 224.01,329.27 232.95,316.98 241.90,323.44 250.84,332.50 259.78,322.34 268.75,323.44 277.72,331.95 286.69,311.97 295.66,324.47 304.63,314.10 313.60,322.89 322.57,320.21 331.54,322.34 340.58,327.14 349.61,328.79 358.64,331.47 367.68,321.24 376.71,318.15 385.74,327.14 394.77,327.07 403.81,319.87 412.85,324.12 421.89,327.14 430.92,320.21 439.96,318.15 449.00,330.51 458.04,320.00 467.08,309.77 476.12,322.27 485.15,306.68 494.18,321.86 503.21,293.78 512.24,281.90 521.27,317.46 530.30,326.25 539.33,321.58 548.37,313.48 557.40,275.58 566.43,215.85 575.46,223.41 584.49,321.58 593.52,313.48 602.56,302.36 611.60,318.29 620.63,314.31 629.67,309.50 638.70,319.45 647.74,318.29 656.77,314.99 665.80,288.22 674.84,282.52 683.87,291.79 692.90,247.23 701.93,322.13 710.97,318.15 720.00,327.49" fill="none" stroke="#0060bf" stroke-opacity="0.95" stroke-width="1.4" stroke-linejoin="round"/>
<g fill="#0060bf"><circle cx="80.00" cy="329.96" r="1.7"/><circle cx="89.01" cy="332.84" r="1.7"/><circle cx="98.03" cy="330.85" r="1.7"/><circle cx="107.04" cy="331.88" r="1.7"/><circle cx="116.06" cy="332.91" r="1.7"/><circle cx="125.07" cy="333.60" r="1.7"/><circle cx="134.08" cy="310.53" r="1.7"/><circle cx="143.10" cy="320.35" r="1.7"/><circle cx="152.11" cy="316.78" r="1.7"/><circle cx="161.13" cy="319.04" r="1.7"/><circle cx="170.14" cy="321.24" r="1.7"/><circle cx="179.15" cy="321.24" r="1.7"/><circle cx="188.17" cy="323.02" r="1.7"/><circle cx="197.18" cy="312.31" r="1.7"/><circle cx="206.13" cy="321.24" r="1.7"/><circle cx="215.07" cy="323.92" r="1.7"/><circle cx="224.01" cy="329.27" r="1.7"/><circle cx="232.95" cy="316.98" r="1.7"/><circle cx="241.90" cy="323.44" r="1.7"/><circle cx="250.84" cy="332.50" r="1.7"/><circle cx="259.78" cy="322.34" r="1.7"/><circle cx="268.75" cy="323.44" r="1.7"/><circle cx="277.72" cy="331.95" r="1.7"/><circle cx="286.69" cy="311.97" r="1.7"/><circle cx="295.66" cy="324.47" r="1.7"/><circle cx="304.63" cy="314.10" r="1.7"/><circle cx="313.60" cy="322.89" r="1.7"/><circle cx="322.57" cy="320.21" r="1.7"/><circle cx="331.54" cy="322.34" r="1.7"/><circle cx="340.58" cy="327.14" r="1.7"/><circle cx="349.61" cy="328.79" r="1.7"/><circle cx="358.64" cy="331.47" r="1.7"/><circle cx="367.68" cy="321.24" r="1.7"/><circle cx="376.71" cy="318.15" r="1.7"/><circle cx="385.74" cy="327.14" r="1.7"/><circle cx="394.77" cy="327.07" r="1.7"/><circle cx="403.81" cy="319.87" r="1.7"/><circle cx="412.85" cy="324.12" r="1.7"/><circle cx="421.89" cy="327.14" r="1.7"/><circle cx="430.92" cy="320.21" r="1.7"/><circle cx="439.96" cy="318.15" r="1.7"/><circle cx="449.00" cy="330.51" r="1.7"/><circle cx="458.04" cy="320.00" r="1.7"/><circle cx="467.08" cy="309.77" r="1.7"/><circle cx="476.12" cy="322.27" r="1.7"/><circle cx="485.15" cy="306.68" r="1.7"/><circle cx="494.18" cy="321.86" r="1.7"/><circle cx="503.21" cy="293.78" r="1.7"/><circle cx="512.24" cy="281.90" r="1.7"/><circle cx="521.27" cy="317.46" r="1.7"/><circle cx="530.30" cy="326.25" r="1.7"/><circle cx="539.33" cy="321.58" r="1.7"/><circle cx="548.37" cy="313.48" r="1.7"/><circle cx="557.40" cy="275.58" r="1.7"/><circle cx="566.43" cy="215.85" r="1.7"/><circle cx="575.46" cy="223.41" r="1.7"/><circle cx="584.49" cy="321.58" r="1.7"/><circle cx="593.52" cy="313.48" r="1.7"/><circle cx="602.56" cy="302.36" r="1.7"/><circle cx="611.60" cy="318.29" r="1.7"/><circle cx="620.63" cy="314.31" r="1.7"/><circle cx="629.67" cy="309.50" r="1.7"/><circle cx="638.70" cy="319.45" r="1.7"/><circle cx="647.74" cy="318.29" r="1.7"/><circle cx="656.77" cy="314.99" r="1.7"/><circle cx="665.80" cy="288.22" r="1.7"/><circle cx="674.84" cy="282.52" r="1.7"/><circle cx="683.87" cy="291.79" r="1.7"/><circle cx="692.90" cy="247.23" r="1.7"/><circle cx="701.93" cy="322.13" r="1.7"/><circle cx="710.97" cy="318.15" r="1.7"/><circle cx="720.00" cy="327.49" r="1.7"/></g>
<polyline points="80.00,336.00 89.01,336.00 98.03,336.00 107.04,336.00 116.06,336.00 125.07,336.00 134.08,323.02 143.10,336.00 152.11,336.00 161.13,336.00 170.14,336.00 179.15,336.00 188.17,336.00 197.18,336.00 206.13,336.00 215.07,336.00 224.01,336.00 232.95,336.00 241.90,336.00 250.84,336.00 259.78,336.00 268.75,336.00 277.72,336.00 286.69,336.00 295.66,336.00 304.63,336.00 313.60,336.00 322.57,336.00 331.54,336.00 340.58,336.00 349.61,336.00 358.64,336.00 367.68,336.00 376.71,336.00 385.74,336.00 394.77,336.00 403.81,336.00 412.85,336.00 421.89,336.00 430.92,336.00 439.96,336.00 449.00,336.00 458.04,336.00 467.08,336.00 476.12,336.00 485.15,336.00 494.18,336.00 503.21,336.00 512.24,334.63 521.27,336.00 530.30,336.00 539.33,336.00 548.37,336.00 557.40,336.00 566.43,336.00 575.46,336.00 584.49,336.00 593.52,336.00 602.56,336.00 611.60,336.00 620.63,336.00 629.67,336.00 638.70,336.00 647.74,336.00 656.77,336.00 665.80,336.00 674.84,336.00 683.87,336.00 692.90,336.00 701.93,336.00 710.97,336.00 720.00,336.00" fill="none" stroke="#0000bf" stroke-opacity="0.95" stroke-width="1.4" stroke-linejoin="round"/>
<g fill="#0000bf"><circle cx="80.00" cy="336.00" r="1.7"/><circle cx="89.01" cy="336.00" r="1.7"/><circle cx="98.03" cy="336.00" r="1.7"/><circle cx="107.04" cy="336.00" r="1.7"/><circle cx="116.06" cy="336.00" r="1.7"/><circle cx="125.07" cy="336.00" r="1.7"/><circle cx="134.08" cy="323.02" r="1.7"/><circle cx="143.10" cy="336.00" r="1.7"/><circle cx="152.11" cy="336.00" r="1.7"/><circle cx="161.13" cy="336.00" r="1.7"/><circle cx="170.14" cy="336.00" r="1.7"/><circle cx="179.15" cy="336.00" r="1.7"/><circle cx="188.17" cy="336.00" r="1.7"/><circle cx="197.18" cy="336.00" r="1.7"/><circle cx="206.13" cy="336.00" r="1.7"/><circle cx="215.07" cy="336.00" r="1.7"/><circle cx="224.01" cy="336.00" r="1.7"/><circle cx="232.95" cy="336.00" r="1.7"/><circle cx="241.90" cy="336.00" r="1.7"/><circle cx="250.84" cy="336.00" r="1.7"/><circle cx="259.78" cy="336.00" r="1.7"/><circle cx="268.75" cy="336.00" r="1.7"/><circle cx="277.72" cy="336.00" r="1.7"/><circle cx="286.69" cy="336.00" r="1.7"/><circle cx="295.66" cy="336.00" r="1.7"/><circle cx="304.63" cy="336.00" r="1.7"/><circle cx="313.60" cy="336.00" r="1.7"/><circle cx="322.57" cy="336.00" r="1.7"/><circle cx="331.54" cy="336.00" r="1.7"/><circle cx="340.58" cy="336.00" r="1.7"/><circle cx="349.61" cy="336.00" r="1.7"/><circle cx="358.64" cy="336.00" r="1.7"/><circle cx="367.68" cy="336.00" r="1.7"/><circle cx="376.71" cy="336.00" r="1.7"/><circle cx="385.74" cy="336.00" r="1.7"/><circle cx="394.77" cy="336.00" r="1.7"/><circle cx="403.81" cy="336.00" r="1.7"/><circle cx="412.85" cy="336.00" r="1.7"/><circle cx="421.89" cy="336.00" r="1.7"/><circle cx="430.92" cy="336.00" r="1.7"/><circle cx="439.96" cy="336.00" r="1.7"/><circle cx="449.00" cy="336.00" r="1.7"/><circle cx="458.04" cy="336.00" r="1.7"/><circle cx="467.08" cy="336.00" r="1.7"/><circle cx="476.12" cy="336.00" r="1.7"/><circle cx="485.15" cy="336.00" r="1.7"/><circle cx="494.18" cy="336.00" r="1.7"/><circle cx="503.21" cy="336.00" r="1.7"/><circle cx="512.24" cy="334.63" r="1.7"/><circle cx="521.27" cy="336.00" r="1.7"/><circle cx="530.30" cy="336.00" r="1.7"/><circle cx="539.33" cy="336.00" r="1.7"/><circle cx="548.37" cy="336.00" r="1.7"/><circle cx="557.40" cy="336.00" r="1.7"/><circle cx="566.43" cy="336.00" r="1.7"/><circle cx="575.46" cy="336.00" r="1.7"/><circle cx="584.49" cy="336.00" r="1.7"/><circle cx="593.52" cy="336.00" r="1.7"/><circle cx="602.56" cy="336.00" r="1.7"/><circle cx="611.60" cy="336.00" r="1.7"/><circle cx="620.63" cy="336.00" r="1.7"/><circle cx="629.67" cy="336.00" r="1.7"/><circle cx="638.70" cy="336.00" r="1.7"/><circle cx="647.74" cy="336.00" r="1.7"/><circle cx="656.77" cy="336.00" r="1.7"/><circle cx="665.80" cy="336.00" r="1.7"/><circle cx="674.84" cy="336.00" r="1.7"/><circle cx="683.87" cy="336.00" r="1.7"/><circle cx="692.90" cy="336.00" r="1.7"/><circle cx="701.93" cy="336.00" r="1.7"/><circle cx="710.97" cy="336.00" r="1.7"/><circle cx="720.00" cy="336.00" r="1.7"/></g>
<polyline points="80.00,320.28 89.01,329.27 98.03,327.21 107.04,321.86 116.06,318.84 125.07,324.26 134.08,300.30 143.10,310.74 152.11,311.01 161.13,307.71 170.14,317.26 179.15,321.72 188.17,325.56 197.18,321.10 206.13,314.85 215.07,311.97 224.01,321.24 232.95,319.45 241.90,323.09 250.84,322.89 259.78,325.02 268.75,323.92 277.72,328.24 286.69,308.06 295.66,311.97 304.63,310.53 313.60,319.45 322.57,319.80 331.54,315.33 340.58,324.47 349.61,313.21 358.64,325.22 367.68,324.47 376.71,315.88 385.74,323.30 394.77,318.56 403.81,323.44 412.85,309.50 421.89,326.11 430.92,314.92 439.96,323.64 449.00,327.76 458.04,316.50 467.08,319.73 476.12,311.15 485.15,281.76 494.18,318.15 503.21,279.91 512.24,262.68 521.27,298.38 530.30,315.06 539.33,314.31 548.37,272.49 557.40,254.51 566.43,162.78 575.46,168.83 584.49,287.80 593.52,284.58 602.56,301.47 611.60,298.24 620.63,298.58 629.67,305.45 638.70,311.42 647.74,293.43 656.77,290.28 665.80,281.42 674.84,255.19 683.87,263.91 692.90,250.87 701.93,317.67 710.97,297.55 720.00,313.21" fill="none" stroke="#6000bf" stroke-opacity="0.95" stroke-width="1.4" stroke-linejoin="round"/>
<g fill="#6000bf"><circle cx="80.00" cy="320.28" r="1.7"/><circle cx="89.01" cy="329.27" r="1.7"/><circle cx="98.03" cy="327.21" r="1.7"/><circle cx="107.04" cy="321.86" r="1.7"/><circle cx="116.06" cy="318.84" r="1.7"/><circle cx="125.07" cy="324.26" r="1.7"/><circle cx="134.08" cy="300.30" r="1.7"/><circle cx="143.10" cy="310.74" r="1.7"/><circle cx="152.11" cy="311.01" r="1.7"/><circle cx="161.13" cy="307.71" r="1.7"/><circle cx="170.14" cy="317.26" r="1.7"/><circle cx="179.15" cy="321.72" r="1.7"/><circle cx="188.17" cy="325.56" r="1.7"/><circle cx="197.18" cy="321.10" r="1.7"/><circle cx="206.13" cy="314.85" r="1.7"/><circle cx="215.07" cy="311.97" r="1.7"/><circle cx="224.01" cy="321.24" r="1.7"/><circle cx="232.95" cy="319.45" r="1.7"/><circle cx="241.90" cy="323.09" r="1.7"/><circle cx="250.84" cy="322.89" r="1.7"/><circle cx="259.78" cy="325.02" r="1.7"/><circle cx="268.75" cy="323.92" r="1.7"/><circle cx="277.72" cy="328.24" r="1.7"/><circle cx="286.69" cy="308.06" r="1.7"/><circle cx="295.66" cy="311.97" r="1.7"/><circle cx="304.63" cy="310.53" r="1.7"/><circle cx="313.60" cy="319.45" r="1.7"/><circle cx="322.57" cy="319.80" r="1.7"/><circle cx="331.54" cy="315.33" r="1.7"/><circle cx="340.58" cy="324.47" r="1.7"/><circle cx="349.61" cy="313.21" r="1.7"/><circle cx="358.64" cy="325.22" r="1.7"/><circle cx="367.68" cy="324.47" r="1.7"/><circle cx="376.71" cy="315.88" r="1.7"/><circle cx="385.74" cy="323.30" r="1.7"/><circle cx="394.77" cy="318.56" r="1.7"/><circle cx="403.81" cy="323.44" r="1.7"/><circle cx="412.85" cy="309.50" r="1.7"/><circle cx="421.89" cy="326.11" r="1.7"/><circle cx="430.92" cy="314.92" r="1.7"/><circle cx="439.96" cy="323.64" r="1.7"/><circle cx="449.00" cy="327.76" r="1.7"/><circle cx="458.04" cy="316.50" r="1.7"/><circle cx="467.08" cy="319.73" r="1.7"/><circle cx="476.12" cy="311.15" r="1.7"/><circle cx="485.15" cy="281.76" r="1.7"/><circle cx="494.18" cy="318.15" r="1.7"/><circle cx="503.21" cy="279.91" r="1.7"/><circle cx="512.24" cy="262.68" r="1.7"/><circle cx="521.27" cy="298.38" r="1.7"/><circle cx="530.30" cy="315.06" r="1.7"/><circle cx="539.33" cy="314.31" r="1.7"/><circle cx="548.37" cy="272.49" r="1.7"/><circle cx="557.40" cy="254.51" r="1.7"/><circle cx="566.43" cy="162.78" r="1.7"/><circle cx="575.46" cy="168.83" r="1.7"/><circle cx="584.49" cy="287.80" r="1.7"/><circle cx="593.52" cy="284.58" r="1.7"/><circle cx="602.56" cy="301.47" r="1.7"/><circle cx="611.60" cy="298.24" r="1.7"/><circle cx="620.63" cy="298.58" r="1.7"/><circle cx="629.67" cy="305.45" r="1.7"/><circle cx="638.70" cy="311.42" r="1.7"/><circle cx="647.74" cy="293.43" r="1.7"/><circle cx="656.77" cy="290.28" r="1.7"/><circle cx="665.80" cy="281.42" r="1.7"/><circle cx="674.84" cy="255.19" r="1.7"/><circle cx="683.87" cy="263.91" r="1.7"/><circle cx="692.90" cy="250.87" r="1.7"/><circle cx="701.93" cy="317.67" r="1.7"/><circle cx="710.97" cy="297.55" r="1.7"/><circle cx="720.00" cy="313.21" r="1.7"/></g>
<polyline points="80.00,335.73 89.01,335.73 98.03,335.31 107.04,334.42 116.06,332.16 125.07,334.42 134.08,325.29 143.10,330.64 152.11,332.84 161.13,333.32 170.14,333.73 179.15,333.73 188.17,332.84 197.18,333.60 206.13,333.05 215.07,335.45 224.01,335.66 232.95,332.50 241.90,334.15 250.84,335.18 259.78,330.03 268.75,334.15 277.72,335.18 286.69,335.18 295.66,335.18 304.63,334.15 313.60,335.45 322.57,333.05 331.54,335.18 340.58,335.18 349.61,335.18 358.64,335.18 367.68,335.18 376.71,334.63 385.74,335.18 394.77,331.47 403.81,334.15 412.85,335.18 421.89,335.18 430.92,334.63 439.96,333.60 449.00,334.15 458.04,334.35 467.08,334.35 476.12,333.73 485.15,326.87 494.18,333.73 503.21,325.02 512.24,315.27 521.27,323.09 530.30,334.35 539.33,331.88 548.37,315.88 557.40,306.27 566.43,327.49 575.46,292.13 584.49,333.60 593.52,316.71 602.56,328.79 611.60,331.19 620.63,332.77 629.67,332.29 638.70,331.19 647.74,332.77 656.77,330.37 665.80,332.84 674.84,323.92 683.87,322.48 692.90,330.16 701.93,334.63 710.97,329.27 720.00,331.40" fill="none" stroke="#bf00bf" stroke-opacity="0.95" stroke-width="1.4" stroke-linejoin="round"/>
<g fill="#bf00bf"><circle cx="80.00" cy="335.73" r="1.7"/><circle cx="89.01" cy="335.73" r="1.7"/><circle cx="98.03" cy="335.31" r="1.7"/><circle cx="107.04" cy="334.42" r="1.7"/><circle cx="116.06" cy="332.16" r="1.7"/><circle cx="125.07" cy="334.42" r="1.7"/><circle cx="134.08" cy="325.29" r="1.7"/><circle cx="143.10" cy="330.64" r="1.7"/><circle cx="152.11" cy="332.84" r="1.7"/><circle cx="161.13" cy="333.32" r="1.7"/><circle cx="170.14" cy="333.73" r="1.7"/><circle cx="179.15" cy="333.73" r="1.7"/><circle cx="188.17" cy="332.84" r="1.7"/><circle cx="197.18" cy="333.60" r="1.7"/><circle cx="206.13" cy="333.05" r="1.7"/><circle cx="215.07" cy="335.45" r="1.7"/><circle cx="224.01" cy="335.66" r="1.7"/><circle cx="232.95" cy="332.50" r="1.7"/><circle cx="241.90" cy="334.15" r="1.7"/><circle cx="250.84" cy="335.18" r="1.7"/><circle cx="259.78" cy="330.03" r="1.7"/><circle cx="268.75" cy="334.15" r="1.7"/><circle cx="277.72" cy="335.18" r="1.7"/><circle cx="286.69" cy="335.18" r="1.7"/><circle cx="295.66" cy="335.18" r="1.7"/><circle cx="304.63" cy="334.15" r="1.7"/><circle cx="313.60" cy="335.45" r="1.7"/><circle cx="322.57" cy="333.05" r="1.7"/><circle cx="331.54" cy="335.18" r="1.7"/><circle cx="340.58" cy="335.18" r="1.7"/><circle cx="349.61" cy="335.18" r="1.7"/><circle cx="358.64" cy="335.18" r="1.7"/><circle cx="367.68" cy="335.18" r="1.7"/><circle cx="376.71" cy="334.63" r="1.7"/><circle cx="385.74" cy="335.18" r="1.7"/><circle cx="394.77" cy="331.47" r="1.7"/><circle cx="403.81" cy="334.15" r="1.7"/><circle cx="412.85" cy="335.18" r="1.7"/><circle cx="421.89" cy="335.18" r="1.7"/><circle cx="430.92" cy="334.63" r="1.7"/><circle cx="439.96" cy="333.60" r="1.7"/><circle cx="449.00" cy="334.15" r="1.7"/><circle cx="458.04" cy="334.35" r="1.7"/><circle cx="467.08" cy="334.35" r="1.7"/><circle cx="476.12" cy="333.73" r="1.7"/><circle cx="485.15" cy="326.87" r="1.7"/><circle cx="494.18" cy="333.73" r="1.7"/><circle cx="503.21" cy="325.02" r="1.7"/><circle cx="512.24" cy="315.27" r="1.7"/><circle cx="521.27" cy="323.09" r="1.7"/><circle cx="530.30" cy="334.35" r="1.7"/><circle cx="539.33" cy="331.88" r="1.7"/><circle cx="548.37" cy="315.88" r="1.7"/><circle cx="557.40" cy="306.27" r="1.7"/><circle cx="566.43" cy="327.49" r="1.7"/><circle cx="575.46" cy="292.13" r="1.7"/><circle cx="584.49" cy="333.60" r="1.7"/><circle cx="593.52" cy="316.71" r="1.7"/><circle cx="602.56" cy="328.79" r="1.7"/><circle cx="611.60" cy="331.19" r="1.7"/><circle cx="620.63" cy="332.77" r="1.7"/><circle cx="629.67" cy="332.29" r="1.7"/><circle cx="638.70" cy="331.19" r="1.7"/><circle cx="647.74" cy="332.77" r="1.7"/><circle cx="656.77" cy="330.37" r="1.7"/><circle cx="665.80" cy="332.84" r="1.7"/><circle cx="674.84" cy="323.92" r="1.7"/><circle cx="683.87" cy="322.48" r="1.7"/><circle cx="692.90" cy="330.16" r="1.7"/><circle cx="701.93" cy="334.63" r="1.7"/><circle cx="710.97" cy="329.27" r="1.7"/><circle cx="720.00" cy="331.40" r="1.7"/></g>
<polyline points="80.00,323.50 89.01,326.73 98.03,328.52 107.04,327.21 116.06,328.65 125.07,326.39 134.08,330.58 143.10,325.70 152.11,327.49 161.13,329.75 170.14,321.72 179.15,330.16 188.17,328.86 197.18,328.10 206.13,324.12 215.07,328.79 224.01,326.32 232.95,326.11 241.90,327.14 250.84,330.16 259.78,327.14 268.75,328.04 277.72,328.04 286.69,327.76 295.66,327.14 304.63,325.56 313.60,326.32 322.57,326.11 331.54,325.84 340.58,330.16 349.61,328.24 358.64,321.58 367.68,325.56 376.71,325.02 385.74,327.35 394.77,328.79 403.81,326.94 412.85,327.07 421.89,329.82 430.92,324.12 439.96,326.11 449.00,327.90 458.04,325.02 467.08,323.99 476.12,319.39 485.15,313.14 494.18,325.63 503.21,303.73 512.24,295.01 521.27,303.73 530.30,321.86 539.33,320.90 548.37,311.08 557.40,286.57 566.43,258.08 575.46,211.60 584.49,315.88 593.52,302.36 602.56,276.54 611.60,314.31 620.63,309.50 629.67,313.48 638.70,306.27 647.74,314.31 656.77,313.00 665.80,300.71 674.84,291.79 683.87,295.36 692.90,306.41 701.93,313.21 710.97,318.56 720.00,315.88" fill="none" stroke="#bf0060" stroke-opacity="0.95" stroke-width="1.4" stroke-linejoin="round"/>
<g fill="#bf0060"><circle cx="80.00" cy="323.50" r="1.7"/><circle cx="89.01" cy="326.73" r="1.7"/><circle cx="98.03" cy="328.52" r="1.7"/><circle cx="107.04" cy="327.21" r="1.7"/><circle cx="116.06" cy="328.65" r="1.7"/><circle cx="125.07" cy="326.39" r="1.7"/><circle cx="134.08" cy="330.58" r="1.7"/><circle cx="143.10" cy="325.70" r="1.7"/><circle cx="152.11" cy="327.49" r="1.7"/><circle cx="161.13" cy="329.75" r="1.7"/><circle cx="170.14" cy="321.72" r="1.7"/><circle cx="179.15" cy="330.16" r="1.7"/><circle cx="188.17" cy="328.86" r="1.7"/><circle cx="197.18" cy="328.10" r="1.7"/><circle cx="206.13" cy="324.12" r="1.7"/><circle cx="215.07" cy="328.79" r="1.7"/><circle cx="224.01" cy="326.32" r="1.7"/><circle cx="232.95" cy="326.11" r="1.7"/><circle cx="241.90" cy="327.14" r="1.7"/><circle cx="250.84" cy="330.16" r="1.7"/><circle cx="259.78" cy="327.14" r="1.7"/><circle cx="268.75" cy="328.04" r="1.7"/><circle cx="277.72" cy="328.04" r="1.7"/><circle cx="286.69" cy="327.76" r="1.7"/><circle cx="295.66" cy="327.14" r="1.7"/><circle cx="304.63" cy="325.56" r="1.7"/><circle cx="313.60" cy="326.32" r="1.7"/><circle cx="322.57" cy="326.11" r="1.7"/><circle cx="331.54" cy="325.84" r="1.7"/><circle cx="340.58" cy="330.16" r="1.7"/><circle cx="349.61" cy="328.24" r="1.7"/><circle cx="358.64" cy="321.58" r="1.7"/><circle cx="367.68" cy="325.56" r="1.7"/><circle cx="376.71" cy="325.02" r="1.7"/><circle cx="385.74" cy="327.35" r="1.7"/><circle cx="394.77" cy="328.79" r="1.7"/><circle cx="403.81" cy="326.94" r="1.7"/><circle cx="412.85" cy="327.07" r="1.7"/><circle cx="421.89" cy="329.82" r="1.7"/><circle cx="430.92" cy="324.12" r="1.7"/><circle cx="439.96" cy="326.11" r="1.7"/><circle cx="449.00" cy="327.90" r="1.7"/><circle cx="458.04" cy="325.02" r="1.7"/><circle cx="467.08" cy="323.99" r="1.7"/><circle cx="476.12" cy="319.39" r="1.7"/><circle cx="485.15" cy="313.14" r="1.7"/><circle cx="494.18" cy="325.63" r="1.7"/><circle cx="503.21" cy="303.73" r="1.7"/><circle cx="512.24" cy="295.01" r="1.7"/><circle cx="521.27" cy="303.73" r="1.7"/><circle cx="530.30" cy="321.86" r="1.7"/><circle cx="539.33" cy="320.90" r="1.7"/><circle cx="548.37" cy="311.08" r="1.7"/><circle cx="557.40" cy="286.57" r="1.7"/><circle cx="566.43" cy="258.08" r="1.7"/><circle cx="575.46" cy="211.60" r="1.7"/><circle cx="584.49" cy="315.88" r="1.7"/><circle cx="593.52" cy="302.36" r="1.7"/><circle cx="602.56" cy="276.54" r="1.7"/><circle cx="611.60" cy="314.31" r="1.7"/><circle cx="620.63" cy="309.50" r="1.7"/><circle cx="629.67" cy="313.48" r="1.7"/><circle cx="638.70" cy="306.27" r="1.7"/><circle cx="647.74" cy="314.31" r="1.7"/><circle cx="656.77" cy="313.00" r="1.7"/><circle cx="665.80" cy="300.71" r="1.7"/><circle cx="674.84" cy="291.79" r="1.7"/><circle cx="683.87" cy="295.36" r="1.7"/><circle cx="692.90" cy="306.41" r="1.7"/><circle cx="701.93" cy="313.21" r="1.7"/><circle cx="710.97" cy="318.56" r="1.7"/><circle cx="720.00" cy="315.88" r="1.7"/></g>
<line x1="752" y1="16" x2="784" y2="16" stroke="#bf0000" stroke-opacity="0.6" stroke-width="2"/>
<circle cx="768" cy="16" r="2" fill="#bf0000"/>
<text x="792" y="16.20" dominant-baseline="central" fill="#bf0000" stroke="#fff" stroke-width="0.48">us1</text>
<line x1="752" y1="32" x2="784" y2="32" stroke="#bf6000" stroke-opacity="0.6" stroke-width="2"/>
<circle cx="768" cy="32" r="2" fill="#bf6000"/>
<text x="792" y="32.20" dominant-baseline="central" fill="#bf6000" stroke="#fff" stroke-width="0.48">fr1</text>
<line x1="752" y1="48" x2="784" y2="48" stroke="#bfbf00" stroke-opacity="0.6" stroke-width="2"/>
<circle cx="768" cy="48" r="2" fill="#bfbf00"/>
<text x="792" y="48.20" dominant-baseline="central" fill="#bfbf00" stroke="#fff" stroke-width="0.48">fr2</text>
<line x1="752" y1="64" x2="784" y2="64" stroke="#60bf00" stroke-opacity="0.6" stroke-width="2"/>
<circle cx="768" cy="64" r="2" fill="#60bf00"/>
<text x="792" y="64.20" dominant-baseline="central" fill="#60bf00" stroke="#fff" stroke-width="0.48">fr3</text>
<line x1="752" y1="80" x2="784" y2="80" stroke="#00bf00" stroke-opacity="0.6" stroke-width="2"/>
<circle cx="768" cy="80" r="2" fill="#00bf00"/>
<text x="792" y="80.20" dominant-baseline="central" fill="#00bf00" stroke="#fff" stroke-width="0.48">fr4</text>
<line x1="752" y1="96" x2="784" y2="96" stroke="#00bf60" stroke-opacity="0.6" stroke-width="2"/>
<circle cx="768" cy="96" r="2" fill="#00bf60"/>
<text x="792" y="96.20" dominant-baseline="central" fill="#00bf60" stroke="#fff" stroke-width="0.48">fr5</text>
<line x1="752" y1="112" x2="784" y2="112" stroke="#00bfbf" stroke-opacity="0.6" stroke-width="2"/>
<circle cx="768" cy="112" r="2" fill="#00bfbf"/>
<text x="792" y="112.20" dominant-baseline="central" fill="#00bfbf" stroke="#fff" stroke-width="0.48">fr6</text>
<line x1="752" y1="128" x2="784" y2="128" stroke="#0060bf" stroke-opacity="0.6" stroke-width="2"/>
<circle cx="768" cy="128" r="2" fill="#0060bf"/>
<text x="792" y="128.20" dominant-baseline="central" fill="#0060bf" stroke="#fff" stroke-width="0.48">fr7</text>
<line x1="752" y1="144" x2="784" y2="144" stroke="#0000bf" stroke-opacity="0.6" stroke-width="2"/>
<circle cx="768" cy="144" r="2" fill="#0000bf"/>
<text x="792" y="144.20" dominant-baseline="central" fill="#0000bf" stroke="#fff" stroke-width="0.48">fr11</text>
<line x1="752" y1="160" x2="784" y2="160" stroke="#6000bf" stroke-opacity="0.6" stroke-width="2"/>
<circle cx="768" cy="160" r="2" fill="#6000bf"/>
<text x="792" y="160.20" dominant-baseline="central" fill="#6000bf" stroke="#fff" stroke-width="0.48">fr13</text>
<line x1="752" y1="176" x2="784" y2="176" stroke="#bf00bf" stroke-opacity="0.6" stroke-width="2"/>
<circle cx="768" cy="176" r="2" fill="#bf00bf"/>
<text x="792" y="176.20" dominant-baseline="central" fill="#bf00bf" stroke="#fff" stroke-width="0.48">fr14</text>
<line x1="752" y1="192" x2="784" y2="192" stroke="#bf0060" stroke-opacity="0.6" stroke-width="2"/>
<circle cx="768" cy="192" r="2" fill="#bf0060"/>
<text x="792" y="192.20" dominant-baseline="central" fill="#bf0060" stroke="#fff" stroke-width="0.48">dk1</text>
</svg></body></html>
